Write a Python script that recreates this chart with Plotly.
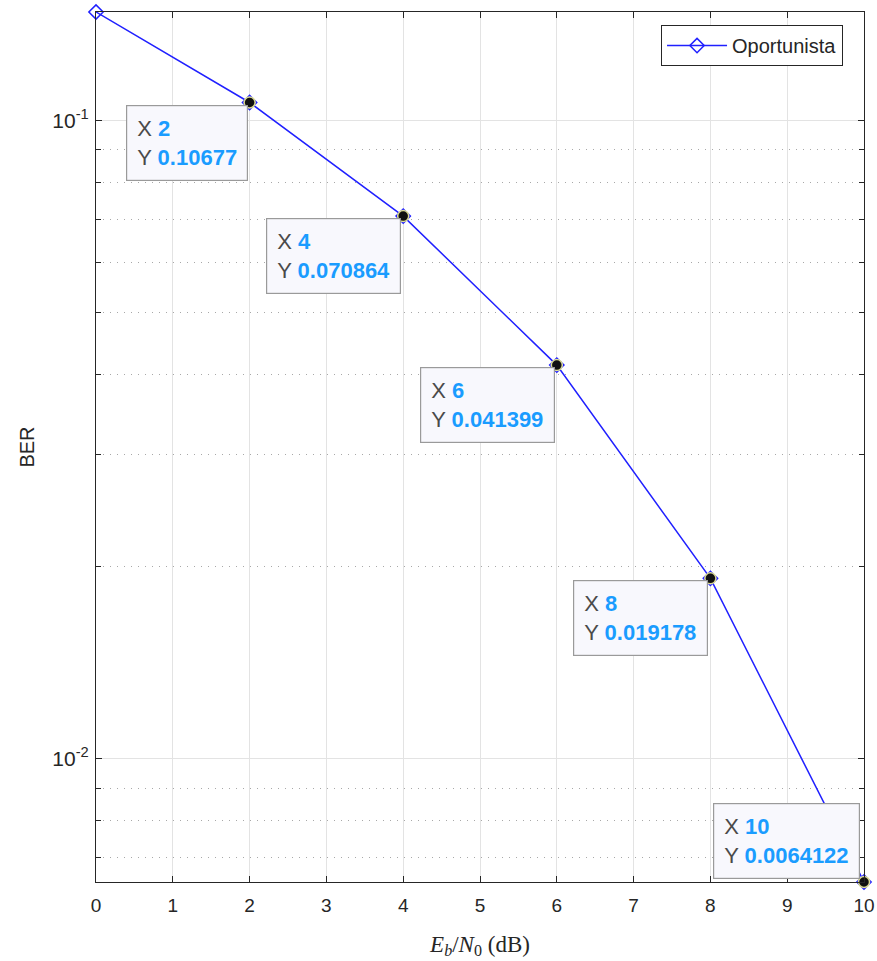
import math
import plotly.graph_objects as go

# BER curve of the opportunistic scheme
ebn0_db = [0, 2, 4, 6, 8, 10]
ber = [0.148, 0.10677, 0.070864, 0.041399, 0.019178, 0.0064122]
series_name = "Oportunista"

# points that carry a data tip
tip_x = [2, 4, 6, 8, 10]
tip_y = [0.10677, 0.070864, 0.041399, 0.019178, 0.0064122]

# log-axis ticks
ytick_vals = [0.01, 0.1]
ytick_text = ["10<sup>-2</sup>", "10<sup>-1</sup>"]
yminor_vals = [0.007, 0.008, 0.009, 0.02, 0.03, 0.04, 0.05, 0.06, 0.07, 0.08, 0.09]
xtick_vals = list(range(0, 11))

AX = "#262626"
TIP_BLUE = "#1a9cff"
FONT = "Liberation Sans, Arial, Helvetica, sans-serif"

fig = go.Figure()

fig.add_trace(go.Scatter(
    x=ebn0_db, y=ber, name=series_name, mode="lines+markers",
    line=dict(color="#2020ff", width=1.5),
    marker=dict(symbol="diamond-open", size=11, color="#2020ff",
                line=dict(width=1.5, color="#2020ff")),
    cliponaxis=False,
))

# data-tip dots
fig.add_trace(go.Scatter(
    x=tip_x, y=tip_y, mode="markers", showlegend=False, hoverinfo="skip",
    marker=dict(symbol="circle", size=11, color="#111111",
                line=dict(width=1.5, color="rgba(235,235,150,0.9)")),
    cliponaxis=False,
))

# data-tip boxes
for i, (xv, yv) in enumerate(zip(tip_x, tip_y)):
    last = i == len(tip_x) - 1
    txt = (f"<span style='color:#4a4a4a'>X</span> <b>{xv:g}</b><br>"
           f"<span style='color:#4a4a4a'>Y</span> <b>{yv:.5g}</b>")
    fig.add_annotation(
        x=xv, y=math.log10(yv), xref="x", yref="y",
        text=txt, showarrow=False, align="left",
        xanchor="right", yanchor="bottom" if last else "top",
        xshift=-4 if last else -2, yshift=3 if last else -2,
        font=dict(family=FONT, size=22, color=TIP_BLUE),
        bgcolor="#f8f8fd", bordercolor="#9a9a9a", borderwidth=1.2,
        borderpad=10,
    )

fig.update_layout(
    width=877, height=961,
    margin=dict(l=96, r=13, t=12, b=79),
    paper_bgcolor="white", plot_bgcolor="white",
    font=dict(family=FONT, size=19, color=AX),
    showlegend=True,
    legend=dict(
        x=0.9727, y=0.985, xanchor="right", yanchor="top",
        bgcolor="white", bordercolor="#262626", borderwidth=1,
        font=dict(family=FONT, size=20, color=AX),
        itemwidth=60,
    ),
    xaxis=dict(
        range=[0, 10], tickvals=xtick_vals, automargin=False,
        showline=True, linecolor=AX, linewidth=1.2, mirror="allticks",
        ticks="inside", ticklen=6, tickcolor=AX, ticklabelstandoff=6,
        showgrid=True, gridcolor="#e3e3e3", gridwidth=1,
        zeroline=False,
        tickfont=dict(family=FONT, size=19, color=AX),
        title=dict(
            text="<i>E</i><sub><i>b</i></sub>/<i>N</i><sub>0</sub> (dB)",
            font=dict(family="Liberation Serif, DejaVu Serif, serif", size=23, color=AX),
            standoff=20,
        ),
    ),
    yaxis=dict(
        type="log", automargin=False,
        range=[math.log10(min(ber)), math.log10(max(ber))],
        tickvals=ytick_vals, ticktext=ytick_text,
        showline=True, linecolor=AX, linewidth=1.2, mirror="allticks",
        ticks="inside", ticklen=6, tickcolor=AX, ticklabelstandoff=2,
        showgrid=True, gridcolor="#e3e3e3", gridwidth=1,
        zeroline=False,
        tickfont=dict(family=FONT, size=21, color=AX),
        minor=dict(tickvals=yminor_vals, ticks="inside", ticklen=5, tickcolor=AX,
                   showgrid=True, gridcolor="#a8a8a8", griddash="1px,6px", gridwidth=1),
        title=dict(text="BER", font=dict(family=FONT, size=20, color=AX), standoff=12),
    ),
)

fig.write_html("out.html")
